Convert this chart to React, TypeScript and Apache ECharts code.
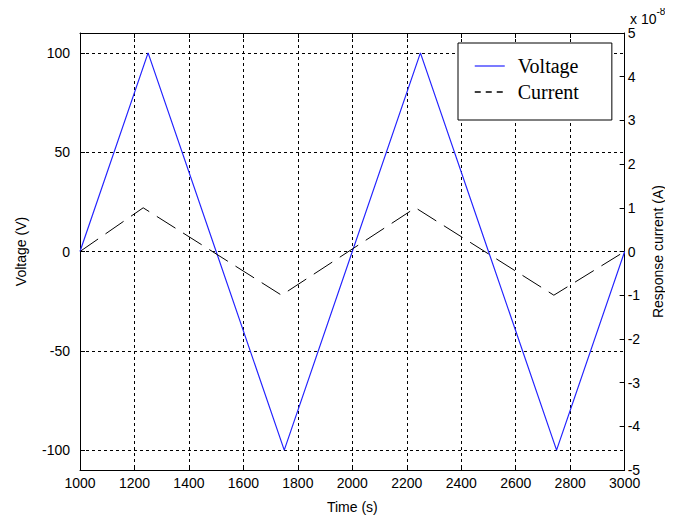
import React, { useEffect, useRef } from "react";
import * as echarts from "echarts";

// Triangular voltage sweep (V) and the response current (in units of 1e-8 A)
const voltagePoints: [number, number][] = [
  [1000, 0],
  [1250, 100],
  [1750, -100],
  [2250, 100],
  [2750, -100],
  [3000, 0],
];
const currentPoints: [number, number][] = [
  [1000, 0],
  [1232, 1],
  [1740, -1],
  [2232, 1],
  [2740, -1],
  [3000, 0],
];
const voltageTicks = [-100, -50, 0, 50, 100];
const seriesNames = ["Voltage", "Current"];

const TICK_FONT = "'Liberation Sans', Arial, sans-serif";
const SERIF = "'Liberation Serif', 'Times New Roman', serif";

export default function App() {
  const ref = useRef<HTMLDivElement>(null);

  useEffect(() => {
    if (!ref.current) return;
    const chart = echarts.init(ref.current, null, { renderer: "svg" });
    const gridDash = { color: "#000", type: [3, 3] as number[], width: 1 };
    const tickLabel = { fontFamily: TICK_FONT, fontSize: 14, color: "#000" };
    chart.setOption({
      animation: false,
      backgroundColor: "#fff",
      grid: { left: 80, right: 43, top: 33, bottom: 54, containLabel: false },
      legend: {
        orient: "vertical",
        left: 458,
        top: 43,
        padding: [12, 33, 17, 16],
        itemGap: 4,
        itemWidth: 30,
        itemHeight: 14,
        backgroundColor: "#fff",
        borderColor: "#000",
        borderWidth: 1,
        borderRadius: 0,
        itemStyle: { opacity: 0, borderWidth: 0 },
        textStyle: {
          fontFamily: SERIF,
          fontSize: 20,
          color: "#000",
          lineHeight: 22,
          padding: [0, 0, 0, 8],
        },
        data: [
          { name: seriesNames[0], lineStyle: { width: 1.2 } },
          { name: seriesNames[1], lineStyle: { width: 1.5, type: [6, 5] } },
        ],
      },
      xAxis: [
        {
          type: "value",
          min: 1000,
          max: 3000,
          interval: 200,
          name: "Time (s)",
          nameLocation: "middle",
          nameGap: 30,
          nameTextStyle: tickLabel,
          axisLine: { show: true, onZero: false, lineStyle: { color: "#000" } },
          axisTick: { show: true, inside: true, length: 5, lineStyle: { color: "#000" } },
          axisLabel: { ...tickLabel, margin: 6, formatter: (v: number) => String(v) },
          splitLine: { show: true, lineStyle: gridDash },
        },
        {
          type: "value",
          position: "top",
          min: 1000,
          max: 3000,
          interval: 200,
          axisLine: { show: true, onZero: false, lineStyle: { color: "#000" } },
          axisTick: { show: true, inside: true, length: 5, lineStyle: { color: "#000" } },
          axisLabel: { show: false },
          splitLine: { show: false },
        },
      ],
      yAxis: [
        {
          type: "value",
          min: -110,
          max: 110,
          name: "Voltage (V)",
          nameLocation: "middle",
          nameRotate: 90,
          nameGap: 52,
          nameTextStyle: tickLabel,
          axisLine: { show: true, onZero: false, lineStyle: { color: "#000" } },
          axisTick: {
            show: true,
            inside: true,
            length: 5,
            customValues: voltageTicks,
            lineStyle: { color: "#000" },
          },
          axisLabel: { ...tickLabel, margin: 10, customValues: voltageTicks },
          splitLine: { show: true, lineStyle: gridDash },
        },
        {
          type: "value",
          position: "right",
          min: -5,
          max: 5,
          interval: 1,
          name: "Response current (A)",
          nameLocation: "middle",
          nameRotate: 90,
          nameGap: 24,
          nameTextStyle: tickLabel,
          axisLine: { show: true, onZero: false, lineStyle: { color: "#000" } },
          axisTick: { show: true, inside: true, length: 5, lineStyle: { color: "#000" } },
          axisLabel: { ...tickLabel, margin: 3 },
          splitLine: { show: false },
        },
      ],
      graphic: [
        {
          type: "text",
          left: 630,
          top: 6,
          style: {
            text: "{b|x 10}{s|-8}",
            rich: {
              b: { fontFamily: TICK_FONT, fontSize: 14, fill: "#000", padding: [6, 0, 0, 0] },
              s: { fontFamily: TICK_FONT, fontSize: 10, fill: "#000", verticalAlign: "top" },
            },
          },
        },
      ],
      series: [
        {
          name: seriesNames[0],
          type: "line",
          xAxisIndex: 0,
          yAxisIndex: 0,
          data: voltagePoints,
          showSymbol: false,
          symbol: "none",
          lineStyle: { color: "#2323ff", width: 1.2 },
          itemStyle: { color: "#2323ff" },
          z: 3,
        },
        {
          name: seriesNames[1],
          type: "line",
          xAxisIndex: 0,
          yAxisIndex: 1,
          data: currentPoints,
          showSymbol: false,
          symbol: "none",
          lineStyle: { color: "#000", width: 1, type: [22, 9] },
          itemStyle: { color: "#000" },
          z: 4,
        },
      ],
    });
    return () => chart.dispose();
  }, []);

  return <div ref={ref} style={{ width: 673, height: 524, margin: -8 }} />;
}
